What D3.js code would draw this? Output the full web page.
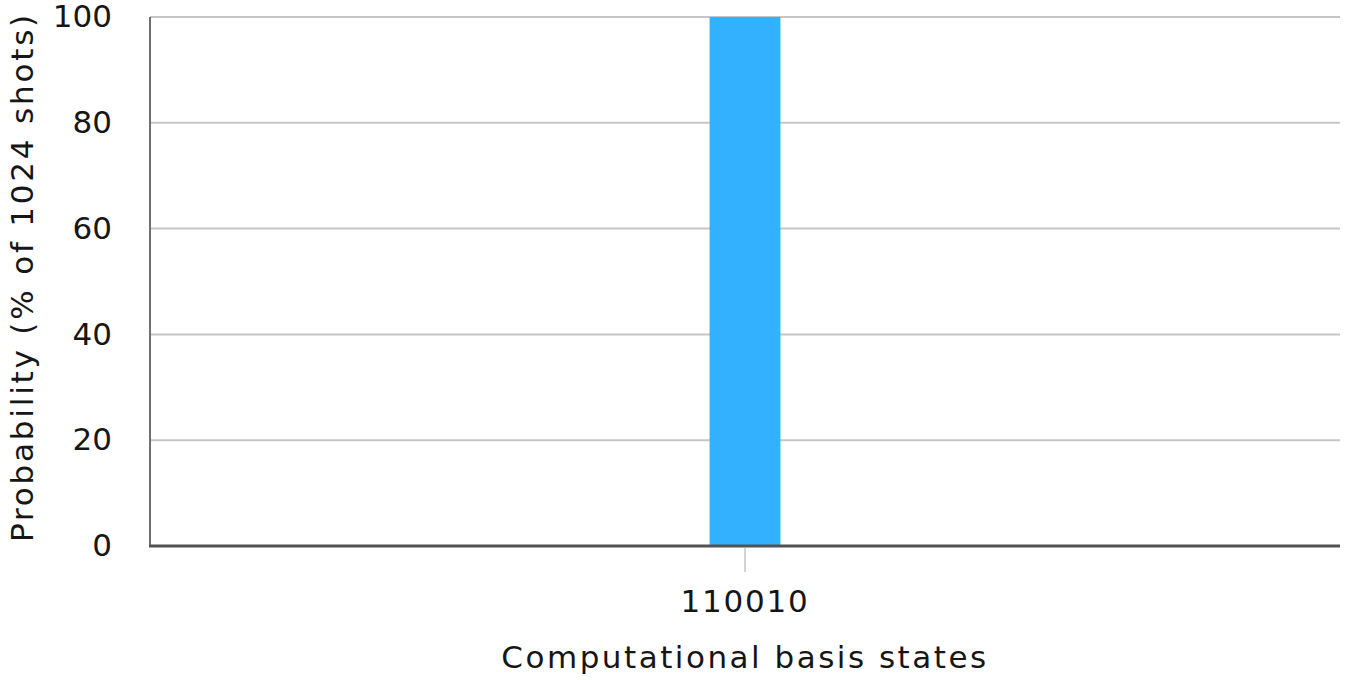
<!DOCTYPE html>
<html><head><meta charset="utf-8">
<script src="https://cdn.jsdelivr.net/npm/d3@7"></script>
<style>
html,body{margin:0;padding:0;background:#fff;}
svg{display:block;font-family:"DejaVu Sans","Noto Sans",sans-serif;}
</style></head>
<body>
<svg id="chart" width="1346" height="680"></svg>
<script>
const categories = ["110010"];
const probabilities = [100];
const yTicks = [0, 20, 40, 60, 80, 100];
const xTitle = "Computational basis states";
const yTitle = "Probability (% of 1024 shots)";

const svg = d3.select("#chart");
const margin = {left: 150, right: 6, top: 17, bottom: 134};
const W = 1346, H = 680;
const x = d3.scaleBand().domain(categories)
  .range([margin.left, W - margin.right])
  .paddingInner(0).paddingOuter(7.9);
const y = d3.scaleLinear().domain([0, 100]).range([H - margin.bottom, margin.top]);

// gridlines
svg.append("g").selectAll("line").data(yTicks.filter(d => d > 0)).join("line")
  .attr("x1", margin.left).attr("x2", W - margin.right)
  .attr("y1", d => y(d)).attr("y2", d => y(d))
  .attr("stroke", "#c6c6c6").attr("stroke-width", 2);

// y tick labels
svg.append("g").selectAll("text").data(yTicks).join("text")
  .attr("x", 112).attr("y", d => y(d))
  .attr("dy", "0.33em")
  .attr("text-anchor", "end")
  .attr("font-size", 31).attr("fill", "#161616")
  .text(d => d);

// bars
svg.append("g").selectAll("rect").data(categories).join("rect")
  .attr("x", d => x(d)).attr("width", x.bandwidth())
  .attr("y", (d, i) => y(probabilities[i]))
  .attr("height", (d, i) => y(0) - y(probabilities[i]))
  .attr("fill", "#33b1ff");

// left axis line
svg.append("line").attr("x1", margin.left).attr("x2", margin.left)
  .attr("y1", margin.top).attr("y2", y(0))
  .attr("stroke", "#6f6f6f").attr("stroke-width", 2);
// bottom axis line
svg.append("line").attr("x1", margin.left - 1).attr("x2", W - margin.right)
  .attr("y1", y(0)).attr("y2", y(0))
  .attr("stroke", "#525252").attr("stroke-width", 3);

// x ticks
const xg = svg.append("g").selectAll("g").data(categories).join("g")
  .attr("transform", d => `translate(${x(d) + x.bandwidth() / 2},0)`);
xg.append("line").attr("y1", y(0) + 2).attr("y2", y(0) + 26)
  .attr("stroke", "#c6c6c6").attr("stroke-width", 1.5);
xg.append("text").attr("y", 612).attr("text-anchor", "middle")
  .attr("font-size", 31).attr("letter-spacing", 1.8).attr("fill", "#161616").text(d => d);

// titles
svg.append("text").attr("x", x(categories[0]) + x.bandwidth() / 2).attr("y", 668)
  .attr("text-anchor", "middle").attr("font-size", 31).attr("letter-spacing", 2.5)
  .attr("fill", "#161616")
  .text(xTitle);
svg.append("text").attr("transform", "translate(33,277) rotate(-90)")
  .attr("text-anchor", "middle").attr("font-size", 31).attr("letter-spacing", 2.8)
  .attr("fill", "#161616")
  .text(yTitle);
</script>
</body></html>
